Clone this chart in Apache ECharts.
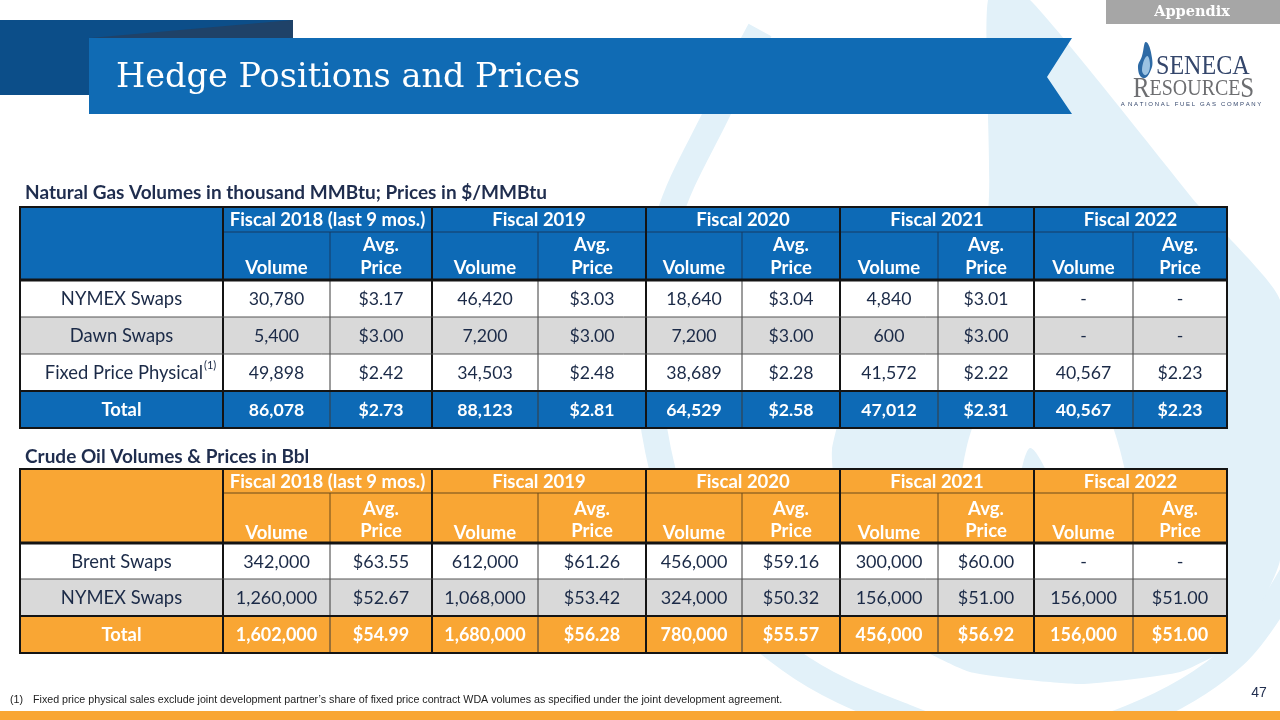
<!DOCTYPE html>
<html><head><meta charset="utf-8">
<script src="https://cdn.jsdelivr.net/npm/echarts@6/dist/echarts.min.js"></script>
<style>html,body{margin:0;padding:0;background:#fff}#c{width:1280px;height:720px}</style>
</head><body><div id="c"></div>
<script>
// ---------- DATA ----------
const pageTitle = 'Hedge Positions and Prices';
const tabLabel = 'Appendix';
const gasTitle = 'Natural Gas Volumes in thousand MMBtu; Prices in $/MMBtu';
const oilTitle = 'Crude Oil Volumes & Prices in Bbl';
const fiscalYears = ['Fiscal 2018 (last 9 mos.)', 'Fiscal 2019', 'Fiscal 2020', 'Fiscal 2021', 'Fiscal 2022'];
const gasCategories = ['NYMEX Swaps', 'Dawn Swaps', 'Fixed Price Physical', 'Total'];
const gasNymexVolume = [30780, 46420, 18640, 4840, null];
const gasNymexPrice = [3.17, 3.03, 3.04, 3.01, null];
const gasDawnVolume = [5400, 7200, 7200, 600, null];
const gasDawnPrice = [3.00, 3.00, 3.00, 3.00, null];
const gasFixedVolume = [49898, 34503, 38689, 41572, 40567];
const gasFixedPrice = [2.42, 2.48, 2.28, 2.22, 2.23];
const gasTotalVolume = [86078, 88123, 64529, 47012, 40567];
const gasTotalPrice = [2.73, 2.81, 2.58, 2.31, 2.23];
const oilCategories = ['Brent Swaps', 'NYMEX Swaps', 'Total'];
const oilBrentVolume = [342000, 612000, 456000, 300000, null];
const oilBrentPrice = [63.55, 61.26, 59.16, 60.00, null];
const oilNymexVolume = [1260000, 1068000, 324000, 156000, 156000];
const oilNymexPrice = [52.67, 53.42, 50.32, 51.00, 51.00];
const oilTotalVolume = [1602000, 1680000, 780000, 456000, 156000];
const oilTotalPrice = [54.99, 56.28, 55.57, 56.92, 51.00];
const footnote = 'Fixed price physical sales exclude joint development partner\u2019s share of fixed price contract WDA volumes as specified under the joint development agreement.';
const pageNumber = '47';

// ---------- LAYOUT ----------
const colEdges = [20, 223, 330, 432, 538, 646, 742, 840, 938, 1034, 1133, 1227];
const gasRowEdges = [207, 232, 280, 317, 354, 391, 428];
const oilRowEdges = [469, 493, 543, 579, 616, 653];
const BLUE = '#0d6ab6', ORANGE = '#f9a634', GRAY = '#d9d9d9', NAVY = '#1b2a47', LIGHT = '#e2f1f9';
const FONT = 'Lato';

const fmtVol = v => v == null ? '-' : v.toLocaleString('en-US');
const fmtPrice = v => v == null ? '-' : '$' + v.toFixed(2);

const els = [];
function rect(x, y, w, h, fill, z, extra) { els.push(Object.assign({ type: 'rect', silent: true, z: z || 10, shape: { x, y, width: w, height: h }, style: { fill } }, extra || {})); }
function line(x1, y1, x2, y2, stroke, lw, z) { els.push({ type: 'line', silent: true, z: z || 11, shape: { x1, y1, x2, y2 }, style: { stroke, lineWidth: lw } }); }
function text(x, y, t, o) {
  o = o || {};
  els.push({ type: 'text', silent: true, z: o.z || 12, x, y, scaleX: o.scaleX || 1,
    style: { text: t, fill: o.fill || NAVY, fontFamily: o.family || FONT, fontSize: o.size || 17, fontWeight: o.weight || 'normal',
      align: o.align || 'center', verticalAlign: o.va || 'middle', textAlign: o.align || 'center', textVerticalAlign: o.va || 'middle', rich: o.rich } });
}

// ---------- BACKGROUND WATERMARK ----------
els.push({ type: 'polyline', silent: true, z: 1, shape: { smooth: 0.35, points: [[760, 30], [717, 113], [668, 220], [650, 340], [658, 450], [700, 570], [790, 660], [900, 715], [1010, 745], [1130, 718], [1235, 655], [1300, 560]] }, style: { stroke: LIGHT, lineWidth: 26, fill: null } });
els.push({ type: 'polygon', silent: true, z: 1, shape: { smooth: 0.15, points: [[988, 0], [1030, 0], [1198, 205], [1280, 300], [1280, 560], [1240, 640], [1180, 672], [1080, 684], [970, 672], [890, 630], [845, 550], [832, 450], [870, 330], [950, 250], [988, 210]] }, style: { fill: LIGHT } });
els.push({ type: 'polygon', silent: true, z: 2, shape: { smooth: 0.4, points: [[1040, 300], [1090, 380], [1120, 450], [1130, 540], [1100, 620], [1040, 650], [980, 620], [962, 540], [966, 450], [1000, 370]] }, style: { fill: '#ffffff' } });
els.push({ type: 'polygon', silent: true, z: 3, shape: { smooth: 0.3, points: [[1030, 448], [1050, 480], [1060, 540], [1045, 600], [1030, 610], [1015, 560], [1018, 490]] }, style: { fill: LIGHT } });

// ---------- HEADER BANNER ----------
rect(0, 20, 293, 75, '#0c4e89', 4);
els.push({ type: 'polygon', silent: true, z: 4, shape: { points: [[90, 38], [293, 20], [293, 38]] }, style: { fill: '#1f4268' } });
els.push({ type: 'polygon', silent: true, z: 5, shape: { points: [[89, 38], [1072, 38], [1047, 77], [1072, 114], [89, 114]] }, style: { fill: '#106bb4' } });
text(116, 78, pageTitle, { fill: '#ffffff', family: 'DejaVu Serif', size: 33.5, align: 'left', z: 6 });
rect(1106, 0, 174, 24, '#a6a6a6', 5);
text(1192, 12, tabLabel, { fill: '#ffffff', family: 'DejaVu Serif', size: 14.5, weight: 'bold', z: 6 });

// logo
els.push({ type: 'polygon', silent: true, z: 6, shape: { smooth: 0.5, points: [[1146, 42], [1152, 58], [1150, 72], [1143, 78], [1138, 68], [1142, 56]] }, style: { fill: '#2d6aa5' } });
els.push({ type: 'polygon', silent: true, z: 7, shape: { smooth: 0.5, points: [[1147, 56], [1150, 66], [1146, 75], [1142, 70]] }, style: { fill: '#9cc3e2' } });
text(1156, 67, 'SENECA', { fill: '#34466b', family: 'Liberation Serif', size: 28, align: 'left', scaleX: 0.86, z: 6 });
text(1133, 89, '{b|R}{s|ESOURCE}{b|S}', { fill: '#6d6e71', family: 'Liberation Serif', size: 25, align: 'left', scaleX: 0.83, z: 6,
  rich: { b: { fontSize: 30, fontFamily: 'Liberation Serif', fill: '#6d6e71' }, s: { fontSize: 24, fontFamily: 'Liberation Serif', fill: '#6d6e71' } } });
text(1191, 104, 'A  N A T I O N A L   F U E L   G A S   C O M P A N Y', { fill: '#34466b', family: 'Liberation Sans', size: 6, z: 6 });

// ---------- TABLES ----------
function buildTable(cfg) {
  const E = cfg.edges, x0 = colEdges[0], x1 = colEdges[colEdges.length - 1];
  rect(x0, E[0], x1 - x0, E[2] - E[0], cfg.color);
  cfg.data.forEach((row, i) => rect(x0, E[i + 2], x1 - x0, E[i + 3] - E[i + 2], row.bg));
  fiscalYears.forEach((fy, k) => {
    const a = colEdges[1 + 2 * k], b = colEdges[3 + 2 * k];
    text((a + b) / 2, (E[0] + E[1]) / 2 + 1, fy, { fill: '#fff', weight: 'bold', size: cfg.hsize });
    const vx = (colEdges[1 + 2 * k] + colEdges[2 + 2 * k]) / 2, px = (colEdges[2 + 2 * k] + colEdges[3 + 2 * k]) / 2;
    text(vx, cfg.volY, 'Volume', { fill: '#fff', weight: 'bold', size: cfg.hsize });
    text(px, cfg.avgY, 'Avg.', { fill: '#fff', weight: 'bold', size: cfg.hsize });
    text(px, cfg.priceY, 'Price', { fill: '#fff', weight: 'bold', size: cfg.hsize });
  });
  cfg.data.forEach((row, i) => {
    const cy = (E[i + 2] + E[i + 3]) / 2 + 1;
    const fill = row.total ? '#fff' : NAVY, weight = row.total ? 'bold' : 'normal';
    if (row.sup) {
      text(colEdges[1] - 20, cy, row.label, { fill, weight, size: cfg.lsize, align: 'right' });
      text(colEdges[1] - 19, cy - 8, row.sup, { fill, size: 11, align: 'left' });
    } else {
      text((colEdges[0] + colEdges[1]) / 2, cy, row.label, { fill, weight, size: cfg.lsize });
    }
    for (let k = 0; k < 5; k++) {
      text((colEdges[1 + 2 * k] + colEdges[2 + 2 * k]) / 2, cy, fmtVol(row.vol[k]), { fill, weight, size: cfg.size });
      text((colEdges[2 + 2 * k] + colEdges[3 + 2 * k]) / 2, cy, fmtPrice(row.price[k]), { fill, weight, size: cfg.size });
    }
  });
  const top = E[0], bot = E[E.length - 1];
  line(colEdges[1], E[1], x1, E[1], cfg.hline, 1);
  for (let k = 0; k < 5; k++) {
    line(colEdges[2 + 2 * k], E[1], colEdges[2 + 2 * k], E[2], cfg.hline, 1);
    line(colEdges[2 + 2 * k], E[2], colEdges[2 + 2 * k], bot, '#3a3a3a', 1);
  }
  [1, 3, 5, 7, 9].forEach(c => line(colEdges[c], top, colEdges[c], bot, '#141414', 2));
  for (let i = 3; i < E.length - 2; i++) line(x0, E[i], x1, E[i], '#555', 1);
  line(x0, E[E.length - 2], x1, E[E.length - 2], '#141414', 2);
  line(x0, E[2], x1, E[2], '#141414', 3);
  els.push({ type: 'rect', silent: true, z: 13, shape: { x: x0, y: top, width: x1 - x0, height: bot - top }, style: { fill: null, stroke: '#141414', lineWidth: 2 } });
}

text(25, 193, gasTitle, { weight: 'bold', size: 19, align: 'left', fill: '#1f2d4e' });
buildTable({ edges: gasRowEdges, color: BLUE, hline: '#173a63', size: 17.7, lsize: 18.4, hsize: 18.5, volY: 268, avgY: 245, priceY: 268,
  data: [
    { label: gasCategories[0], vol: gasNymexVolume, price: gasNymexPrice, bg: '#ffffff' },
    { label: gasCategories[1], vol: gasDawnVolume, price: gasDawnPrice, bg: GRAY },
    { label: gasCategories[2], sup: '(1)', vol: gasFixedVolume, price: gasFixedPrice, bg: '#ffffff' },
    { label: gasCategories[3], vol: gasTotalVolume, price: gasTotalPrice, bg: BLUE, total: true }
  ] });

text(25, 457, oilTitle, { weight: 'bold', size: 19, align: 'left', fill: '#1f2d4e' });
buildTable({ edges: oilRowEdges, color: ORANGE, hline: '#6b4a1a', size: 18, lsize: 18.4, hsize: 18.5, volY: 533, avgY: 509, priceY: 531,
  data: [
    { label: oilCategories[0], vol: oilBrentVolume, price: oilBrentPrice, bg: '#ffffff' },
    { label: oilCategories[1], vol: oilNymexVolume, price: oilNymexPrice, bg: GRAY },
    { label: oilCategories[2], vol: oilTotalVolume, price: oilTotalPrice, bg: ORANGE, total: true }
  ] });

// ---------- FOOTER ----------
text(10, 700, '(1)', { family: 'Liberation Sans', size: 10.7, align: 'left', fill: '#222' });
text(33, 700, footnote, { family: 'Liberation Sans', size: 10.7, align: 'left', fill: '#222' });
text(1259, 693, pageNumber, { family: 'Liberation Sans', size: 14, fill: '#1f2d4e' });
rect(0, 711, 1280, 9, ORANGE, 5);

const chart = echarts.init(document.getElementById('c'), null, { width: 1280, height: 720 });
chart.setOption({ animation: false, graphic: { elements: els } });
</script></body></html>
